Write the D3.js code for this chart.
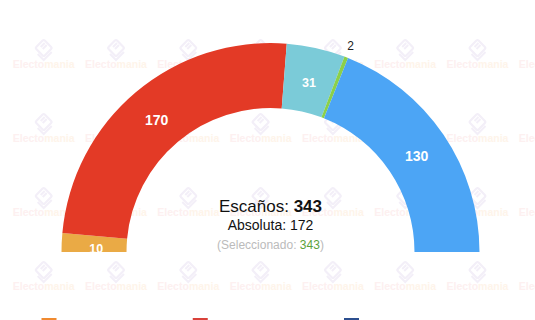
<!DOCTYPE html>
<html>
<head>
<meta charset="utf-8">
<script src="https://cdn.jsdelivr.net/npm/d3@7"></script>
<style>
  html, body { margin: 0; padding: 0; background: #fff; }
  svg { display: block; font-family: "Liberation Sans", Arial, Helvetica, sans-serif; }
</style>
</head>
<body>
<svg id="chart" width="535" height="320"></svg>
<script>
// Seats per party, left to right around the hemicycle
const parties = ["Grupo A", "Grupo B", "Grupo C", "Grupo D", "Grupo E"];
const seats = [10, 170, 31, 2, 130];
const colors = ["#EAAA45", "#E33A26", "#7BCBD8", "#8BD04A", "#4CA5F5"];

// Summary shown in the middle of the hemicycle
const totalLabel = "Escaños:";
const majorityLabel = "Absoluta: ";
const selectedLabel = "Seleccionado:";
const majority = 172;

// Legend swatches along the bottom edge
const legendColors = ["#F08A30", "#D9413A", "#2C4F8F"];

const W = 535, H = 320;
const cx = 270.5, cy = 252;
const rOuter = 209, rInner = 144;

const svg = d3.select("#chart");
svg.append("rect").attr("width", W).attr("height", H).attr("fill", "#fff");

// Faint watermark grid behind the chart
const wm = svg.append("g").attr("class", "watermark");
const colXs = d3.range(0, 8).map(i => 43.7 + i * 72.3);
const rowYs = d3.range(0, 4).map(i => 48 + i * 74);
rowYs.forEach(y => {
  colXs.forEach(x => {
    const g = wm.append("g").attr("transform", `translate(${x},${y})`);
    g.append("rect")
      .attr("x", -6).attr("y", -6).attr("width", 12).attr("height", 12)
      .attr("rx", 1.5)
      .attr("transform", "rotate(-45)")
      .attr("fill", "none").attr("stroke", "#F3EFF8").attr("stroke-width", 2.2);
    g.append("path")
      .attr("d", "M-3,-1 L1,-5 M-1,1 L3,-3 M-6,6 L0,12 L8,4")
      .attr("fill", "none").attr("stroke", "#F3EFF8").attr("stroke-width", 2);
    const t = g.append("text")
      .attr("y", 20).attr("text-anchor", "middle")
      .attr("font-size", 10.5).attr("font-weight", "bold");
    t.append("tspan").attr("fill", "#FDF0F0").text("Electo");
    t.append("tspan").attr("fill", "#FEF4EA").text("mania");
  });
});

// Hemicycle
const pie = d3.pie().sort(null).value(d => d)
  .startAngle(-Math.PI / 2).endAngle(Math.PI / 2);
const arcs = pie(seats);
const arc = d3.arc().innerRadius(rInner).outerRadius(rOuter);
const labelArc = d3.arc().innerRadius((rInner + rOuter) / 2).outerRadius((rInner + rOuter) / 2);
const outsideArc = d3.arc().innerRadius(rOuter + 12).outerRadius(rOuter + 12);

const g = svg.append("g").attr("transform", `translate(${cx},${cy})`);
g.selectAll("path.slice").data(arcs).enter().append("path")
  .attr("class", "slice")
  .attr("d", arc)
  .attr("fill", (d, i) => colors[i]);

// Seat counts: inside wide slices, outside very thin ones
g.selectAll("text.value").data(arcs).enter().append("text")
  .attr("class", "value")
  .attr("transform", d => {
    const inside = d.value >= 5;
    const [x, y] = inside ? labelArc.centroid(d) : outsideArc.centroid(d);
    const dy = inside ? (d.value < 20 ? 5 : 3) : 0;
    const dx = inside && d.value < 20 ? 2 : 0;
    return `translate(${x + dx},${y + dy})`;
  })
  .attr("text-anchor", "middle")
  .attr("dominant-baseline", "central")
  .attr("font-size", d => d.value >= 5 ? (d.value >= 100 ? 14 : 12.5) : 12)
  .attr("font-weight", d => d.value >= 5 ? "bold" : "normal")
  .attr("fill", d => d.value >= 5 ? "#fff" : "#222")
  .text(d => d.value);

// Centre summary, each piece its own text laid out side by side
const total = d3.sum(seats);
function row(parts, y, size) {
  const nodes = parts.map(p => svg.append("text")
    .attr("y", y).attr("font-size", size)
    .attr("font-weight", p.bold ? "bold" : "normal")
    .attr("fill", p.fill)
    .text(p.text));
  const gap = size * 0.28;
  const widths = nodes.map(n => n.node().getComputedTextLength());
  const totalW = d3.sum(widths) + gap * parts.filter(p => p.space).length;
  let x = cx - totalW / 2;
  nodes.forEach((n, i) => {
    n.attr("x", x);
    x += widths[i] + (parts[i].space ? gap : 0);
  });
}
row([{ text: totalLabel, fill: "#111", space: true },
     { text: String(total), fill: "#111", bold: true }], 212, 17);
svg.append("text").attr("x", cx).attr("y", 230).attr("text-anchor", "middle")
  .attr("font-size", 14).attr("fill", "#111")
  .text(majorityLabel + majority);
row([{ text: "(" + selectedLabel, fill: "#BBBBBB", space: true },
     { text: String(total), fill: "#5BA33B" },
     { text: ")", fill: "#BBBBBB" }], 249, 12);

// Legend swatches
const legendX = d3.scalePoint().domain(d3.range(legendColors.length)).range([41.5, 344]);
svg.selectAll("rect.legend").data(legendColors).enter().append("rect")
  .attr("class", "legend")
  .attr("x", (d, i) => legendX(i))
  .attr("y", 318)
  .attr("width", 15).attr("height", 15)
  .attr("fill", d => d);
</script>
</body>
</html>
